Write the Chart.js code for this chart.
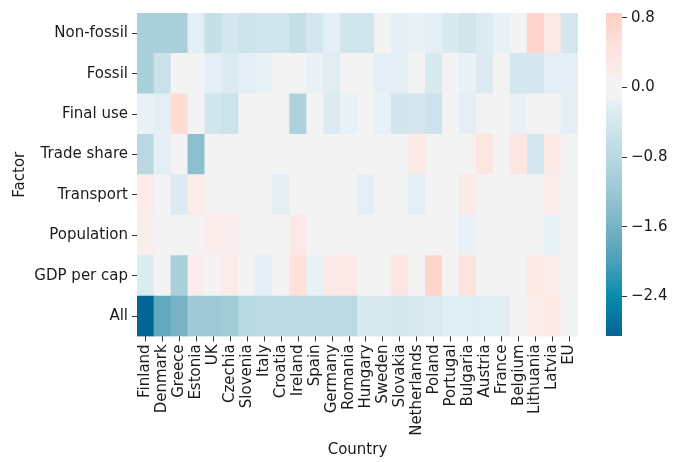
<!DOCTYPE html>
<html>
<head>
<meta charset="utf-8">
<script src="https://cdn.jsdelivr.net/npm/chart.js@4"></script>
<style>
  html, body { margin: 0; padding: 0; background: #fff; }
  #wrap { position: relative; width: 686px; height: 462px; }
  #mainBox { position: absolute; left: 0; top: 0; width: 592px; height: 462px; }
  #barBox { position: absolute; left: 600px; top: 0; width: 86px; height: 462px; }
</style>
</head>
<body>
<div id="wrap">
  <div id="mainBox"><canvas id="heatChart"></canvas></div>
  <div id="barBox"><canvas id="scaleChart"></canvas></div>
</div>
<script>
const countries = ['Finland', 'Denmark', 'Greece', 'Estonia', 'UK', 'Czechia', 'Slovenia', 'Italy', 'Croatia',
  'Ireland', 'Spain', 'Germany', 'Romania', 'Hungary', 'Sweden', 'Slovakia', 'Netherlands', 'Poland',
  'Portugal', 'Bulgaria', 'Austria', 'France', 'Belgium', 'Lithuania', 'Latvia', 'EU'];
const factors = ['Non-fossil', 'Fossil', 'Final use', 'Trade share', 'Transport', 'Population', 'GDP per cap', 'All'];

const nonFossil  = [-1.0, -1.0, -1.0, -0.2, -0.6, -0.4, -0.5, -0.45, -0.45, -0.6, -0.4, -0.2, -0.45, -0.45, 0, -0.2, -0.15, -0.2, -0.35, -0.45, -0.3, -0.15, 0, 0.75, 0.3, -0.4];
const fossil     = [-1.0, -0.55, 0, 0, -0.2, -0.3, -0.2, -0.15, 0, 0, -0.15, -0.25, 0, 0, -0.2, -0.2, 0, -0.35, 0, -0.15, -0.3, 0, -0.4, -0.4, -0.2, -0.2];
const finalUse   = [-0.15, -0.2, 0.6, 0, -0.45, -0.5, 0, 0, 0, -0.95, 0, -0.3, -0.15, 0, -0.15, -0.45, -0.4, -0.5, 0, -0.2, 0, 0, -0.15, 0, 0, -0.2];
const tradeShare = [-0.8, -0.2, 0, -1.35, 0, 0, 0, 0, 0, 0, 0, 0, 0, 0, 0, 0, 0.25, 0, 0, 0, 0.35, 0, 0.35, -0.4, 0.25, 0];
const transport  = [0.2, 0, -0.3, 0.2, 0, 0, 0, 0, -0.2, 0, 0, 0, 0, -0.2, 0, 0, -0.2, 0, 0, 0.25, 0, 0, 0, 0, 0.15, 0];
const population = [0.15, 0, 0, 0, 0.15, 0.15, 0, 0, 0, 0.3, 0, 0, 0, 0, 0, 0, 0, 0, 0, -0.15, 0, 0, 0, 0, -0.15, 0];
const gdpPerCap  = [-0.3, 0, -1.0, 0.15, 0, 0.2, 0, -0.2, 0, 0.5, -0.15, 0.3, 0.3, 0, 0, 0.35, 0, 0.75, 0, 0.45, 0, 0, 0, 0.25, 0.2, 0];
const allFactors = [-2.857, -1.8, -1.6, -1.15, -1.15, -1.1, -0.8, -0.75, -0.75, -0.75, -0.75, -0.75, -0.75, -0.35, -0.35, -0.4, -0.35, -0.3, -0.25, -0.25, -0.25, -0.25, 0, 0.2, 0.25, 0];

const rows = [nonFossil, fossil, finalUse, tradeShare, transport, population, gdpPerCap, allFactors];

const colorTicks = [0.8, 0.0, -0.8, -1.6, -2.4];
const vMin = -2.857, vMax = 0.857;

// colour map, sampled from the colour bar
const cmap = [
  [-2.857, [3, 100, 152]],
  [-2.4, [8, 140, 172]],
  [-2.0, [75, 160, 186]],
  [-1.6, [120, 178, 198]],
  [-1.2, [155, 199, 212]],
  [-0.8, [184, 216, 226]],
  [-0.4, [212, 231, 238]],
  [-0.14, [232, 241, 246]],
  [-0.12, [243, 243, 243]],
  [0.11, [243, 243, 243]],
  [0.13, [250, 238, 236]],
  [0.5, [255, 225, 218]],
  [0.857, [255, 207, 195]]
];

function colorFor(v) {
  if (v <= cmap[0][0]) return rgb(cmap[0][1]);
  for (let i = 1; i < cmap.length; i++) {
    if (v <= cmap[i][0]) {
      const a = cmap[i - 1], b = cmap[i];
      const t = (v - a[0]) / (b[0] - a[0]);
      return rgb(a[1].map((c, k) => c + (b[1][k] - c) * t));
    }
  }
  return rgb(cmap[cmap.length - 1][1]);
}
function rgb(c) {
  return 'rgb(' + c.map(x => Math.round(x)).join(',') + ')';
}

const fontFamily = '"DejaVu Sans", sans-serif';
const textColor = '#1a1a1a';

// bottom row first so the stack grows upwards
const datasets = rows.slice().reverse().map((vals, i) => ({
  label: factors[factors.length - 1 - i],
  data: vals.map(() => 1),
  backgroundColor: vals.map(colorFor),
  borderWidth: 0,
  barPercentage: 1,
  categoryPercentage: 1
}));

new Chart(document.getElementById('heatChart'), {
  type: 'bar',
  data: { labels: countries, datasets: datasets },
  options: {
    responsive: true,
    maintainAspectRatio: false,
    animation: false,
    layout: { padding: { top: 10.6, left: 0, right: 14, bottom: 0 } },
    plugins: { legend: { display: false }, tooltip: { enabled: false } },
    scales: {
      x: {
        stacked: true,
        grid: { display: true, offset: false, drawOnChartArea: false, drawTicks: true, tickLength: 5, color: '#333' },
        border: { display: false },
        ticks: { autoSkip: false, maxRotation: 90, minRotation: 90, padding: 3, color: textColor, font: { family: fontFamily, size: 15 } },
        title: { display: true, text: 'Country', color: textColor, font: { family: fontFamily, size: 15 }, padding: { top: 0, bottom: 3 } },
        afterFit: function(scale) { scale.height = 125.6; }
      },
      y: {
        type: 'linear',
        stacked: true,
        min: 0,
        max: 8,
        grid: { display: true, drawOnChartArea: false, drawTicks: true, tickLength: 5, color: '#333' },
        border: { display: false },
        afterBuildTicks: function(scale) {
          scale.ticks = factors.map((f, i) => ({ value: 7.5 - i }));
        },
        ticks: {
          padding: 4,
          color: textColor,
          font: { family: fontFamily, size: 15 },
          callback: function(v) { return factors[Math.round(7.5 - v)]; }
        },
        title: { display: true, text: 'Factor', color: textColor, font: { family: fontFamily, size: 15 }, padding: { top: 11, bottom: 0 } },
        afterFit: function(scale) { scale.width = 137; }
      }
    }
  }
});

// colour bar
new Chart(document.getElementById('scaleChart'), {
  type: 'bar',
  data: {
    labels: ['scale'],
    datasets: [{
      data: [[vMin, vMax]],
      borderWidth: 0,
      barPercentage: 1,
      categoryPercentage: 1,
      backgroundColor: function(ctx) {
        const chart = ctx.chart;
        if (!chart.chartArea) return null;
        const ys = chart.scales.y;
        const y0 = ys.getPixelForValue(vMin), y1 = ys.getPixelForValue(vMax);
        const g = chart.ctx.createLinearGradient(0, y0, 0, y1);
        cmap.forEach(s => g.addColorStop((s[0] - vMin) / (vMax - vMin), rgb(s[1])));
        return g;
      }
    }]
  },
  options: {
    responsive: true,
    maintainAspectRatio: false,
    animation: false,
    layout: { padding: { top: 10, left: 6, right: 0, bottom: 126 } },
    plugins: { legend: { display: false }, tooltip: { enabled: false } },
    scales: {
      x: { display: false },
      y: {
        position: 'right',
        min: vMin,
        max: vMax,
        grid: { display: true, drawOnChartArea: false, drawTicks: true, tickLength: 5, color: '#333' },
        border: { display: false },
        afterBuildTicks: function(scale) {
          scale.ticks = colorTicks.map(v => ({ value: v }));
        },
        ticks: {
          padding: 4,
          color: textColor,
          font: { family: fontFamily, size: 15 },
          callback: function(v) { return v.toFixed(1).replace('-', '\u2212'); }
        },
        afterFit: function(scale) { scale.width = 64; }
      }
    }
  }
});
</script>
</body>
</html>
